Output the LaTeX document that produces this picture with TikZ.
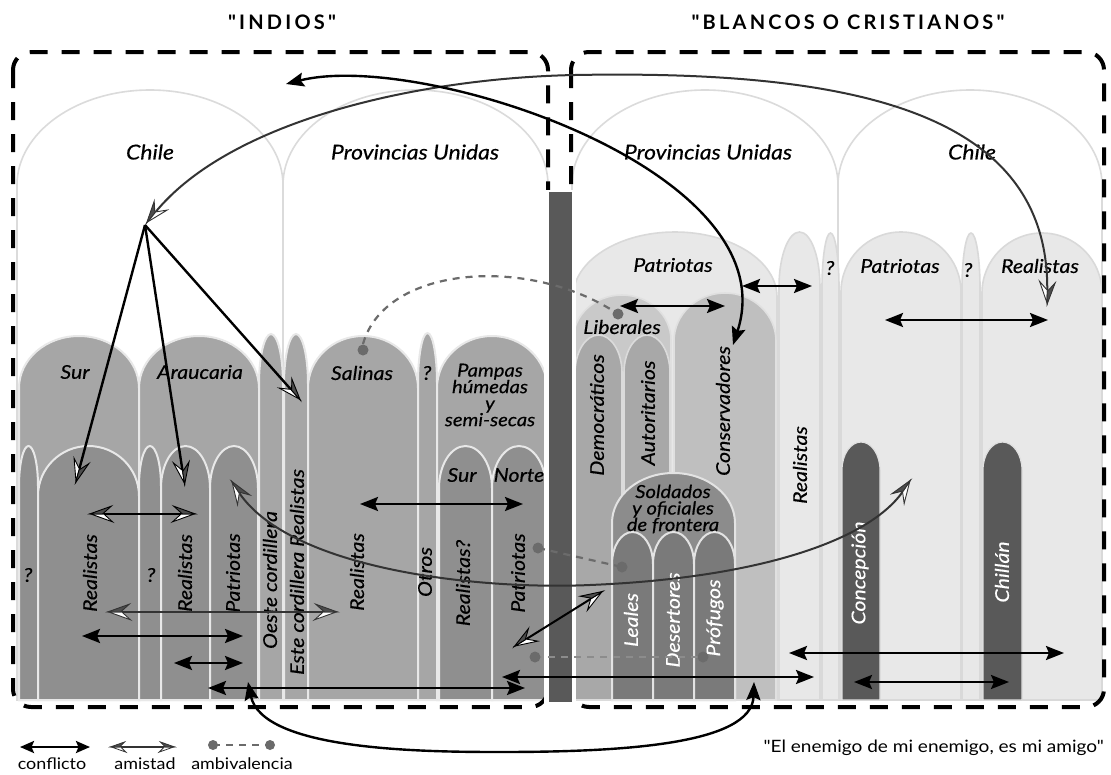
\documentclass[tikz,border=0pt]{standalone}
\usepackage{fontspec}
\setmainfont[Ligatures=TeXOff,FakeStretch=1.12]{Lato}
\newfontfamily\labfont[Ligatures=TeXOff,FakeStretch=1.12,FakeBold=0.4]{Lato}
\newfontfamily\titlefont[LetterSpace=16,Ligatures=TeXOff]{Lato}
\usetikzlibrary{arrows.meta}
\definecolor{amcol}{gray}{0.2}
\definecolor{ambcol}{gray}{0.42}
\tikzset{
 Conf/.tip={Stealth[length=18pt,width=14pt,inset=3pt]},
 ConfS/.tip={Stealth[length=14pt,width=12pt,inset=2.5pt]},
 Amis/.tip={Stealth[harpoon,length=25pt,width=18pt,inset=10pt,fill=white,line width=0.9pt,sep=-25pt]Stealth[harpoon,swap,length=25pt,width=18pt,inset=10pt,fill=black!70,line width=0.9pt]},
 AmisE/.tip={Stealth[harpoon,swap,length=25pt,width=18pt,inset=10pt,fill=white,line width=0.9pt,sep=-25pt]Stealth[harpoon,length=25pt,width=18pt,inset=10pt,fill=black!70,line width=0.9pt]},
 AmisS/.tip={Stealth[harpoon,length=17pt,width=12pt,inset=6pt,fill=white,line width=0.8pt,sep=-17pt]Stealth[harpoon,swap,length=17pt,width=12pt,inset=6pt,fill=black!70,line width=0.8pt]},
 AmisSE/.tip={Stealth[harpoon,swap,length=17pt,width=12pt,inset=6pt,fill=white,line width=0.8pt,sep=-17pt]Stealth[harpoon,length=17pt,width=12pt,inset=6pt,fill=black!70,line width=0.8pt]},
}
\newcommand{\archshape}[6]{%
 \pgfmathsetmacro{\aXa}{#2}\pgfmathsetmacro{\aXb}{#3}%
 \pgfmathsetmacro{\aXm}{(#2+#3)/2}\pgfmathsetmacro{\aRx}{(#3-#2)/2}%
 \pgfmathsetmacro{\aYs}{#4+#5}\pgfmathsetmacro{\aYc}{#4+#5-0.5523*#5}%
 \pgfmathsetmacro{\aXl}{\aXm-0.5523*\aRx}\pgfmathsetmacro{\aXr}{\aXm+0.5523*\aRx}%
 \path[#1] (\aXa,#6) -- (\aXa,\aYs) .. controls (\aXa,\aYc) and (\aXl,#4) .. (\aXm,#4)
   .. controls (\aXr,#4) and (\aXb,\aYc) .. (\aXb,\aYs) -- (\aXb,#6) -- cycle;}
\begin{document}
\begin{tikzpicture}[x=1pt,y=-1pt,
 whitearch/.style={fill=white,draw=black!14,line width=1.6pt},
 gA/.style={fill=black!35,draw=black!9,line width=2pt},
 gB/.style={fill=black!44,draw=black!9,line width=2pt},
 rA/.style={fill=black!9,draw=black!15,line width=1.6pt},
 rLib/.style={fill=black!21,draw=black!12,line width=1.6pt},
 rCon/.style={fill=black!25,draw=black!12,line width=1.6pt},
 rDem/.style={fill=black!34,draw=black!14,line width=1.6pt},
 rSol/.style={fill=black!45,draw=black!11,line width=2pt},
 rLea/.style={fill=black!52,draw=black!11,line width=2pt},
 city/.style={fill=black!65,draw=black!12,line width=1.2pt},
 dashframe/.style={draw=black,line width=4pt,dash pattern=on 18pt off 14pt,rounded corners=18pt},
 lab/.style={font=\labfont\fontsize{19}{19}\selectfont\itshape,inner sep=0pt},
 biglab/.style={font=\labfont\fontsize{20.5}{20.5}\selectfont\itshape,inner sep=0pt},
 vlab/.style={lab,rotate=90},
 wvlab/.style={vlab,text=white},
 mlab/.style={lab,align=center,font=\labfont\fontsize{18}{16.5}\selectfont\itshape},
 conf/.style={line width=2.4pt,draw=black,arrows={Conf-Conf}},
 amis/.style={line width=2pt,draw=amcol,arrows={Amis-AmisE}},
 hubline/.style={line width=2.4pt,draw=black,arrows={-AmisE}},
 amb/.style={draw=ambcol,line width=2.2pt,dash pattern=on 7pt off 6pt},
 ambdot/.style={circle,fill=ambcol,inner sep=0pt,minimum size=11pt},
 legtext/.style={font=\fontsize{16}{16}\selectfont,inner sep=0pt},
 titletext/.style={font=\titlefont\bfseries\fontsize{20}{20}\selectfont,inner sep=0pt},
]
\useasboundingbox (0,0) rectangle (1111,774);
\fill[white] (0,0) rectangle (1111,774);

% big white arches
\archshape{whitearch}{17}{283}{90}{95}{700}
\archshape{whitearch}{283}{548}{90}{95}{700}
\archshape{whitearch}{572}{838}{90}{95}{700}
\archshape{whitearch}{838}{1102}{90}{95}{700}

% left, level A
\archshape{gA}{19}{139}{336}{52}{700}
\archshape{gA}{139}{259}{336}{52}{700}
\archshape{gA}{259}{283}{334}{50}{700}
\archshape{gA}{284}{308}{334}{50}{700}
\archshape{gA}{308}{418}{336}{52}{700}
\archshape{gA}{418}{437}{333}{50}{700}
\archshape{gA}{437}{547}{336}{52}{700}
% left, level B
\archshape{gB}{19}{38}{446}{40}{700}
\archshape{gB}{38}{139}{446}{50}{700}
\archshape{gB}{139}{161}{446}{40}{700}
\archshape{gB}{161}{210}{446}{42}{700}
\archshape{gB}{210}{258}{446}{42}{700}
\archshape{gB}{439}{492}{446}{42}{700}
\archshape{gB}{492}{546}{446}{42}{700}

% right, level A
\archshape{rA}{573}{777}{232}{65}{700}
\archshape{rA}{779}{820}{232}{55}{700}
\archshape{rA}{822}{839}{233}{55}{700}
\archshape{rA}{841}{961}{232}{60}{700}
\archshape{rA}{962}{980}{233}{55}{700}
\archshape{rA}{982}{1102}{233}{60}{700}
% right, inner levels
\archshape{rLib}{573}{671}{295}{45}{700}
\archshape{rCon}{674}{776}{293}{48}{700}
\archshape{rDem}{575}{622}{335}{38}{700}
\archshape{rDem}{624}{670}{335}{38}{700}
\archshape{rSol}{612}{735}{473}{50}{700}
\archshape{rLea}{612}{653}{532}{32}{700}
\archshape{rLea}{653}{694}{532}{32}{700}
\archshape{rLea}{694}{735}{532}{32}{700}
\archshape{city}{842}{880}{442}{28}{700}
\archshape{city}{983}{1022}{442}{28}{700}

% dashed frames
\draw[dashframe] (13,52) rectangle (548,707);
\draw[dashframe] (571,52) rectangle (1104,707);
% central bar
\fill[white] (544,190) rectangle (576,712);
\fill[black!65] (549,192) rectangle (572,702);

% titles
\node[titletext] (tInd) at (282,22) {"INDIOS"};
\node[titletext] (tBla) at (848,22) {"BLANCOS O CRISTIANOS"};

% labels
\node[biglab] (chL) at (150,152) {Chile};
\node[biglab] (pvL) at (415,152) {Provincias Unidas};
\node[biglab] (pvR) at (708,152) {Provincias Unidas};
\node[biglab] (chR) at (972,152) {Chile};
\node[lab] (sur) at (75,372) {Sur};
\node[lab] (arau) at (200,372) {Araucaria};
\node[lab] (sal) at (362,373) {Salinas};
\node[lab] (q0) at (427,373) {?};
\node[mlab] (pamp) at (490,395) {Pampas\\húmedas\\y\\semi-secas};
\node[lab] (psur) at (462,475) {Sur};
\node[lab] (pnor) at (519,475) {Norte};
\node[lab] (q1) at (28,575) {?};
\node[lab] (q2) at (151,575) {?};
\node[vlab] (re1) at (90,573) {Realistas};
\node[vlab] (re2) at (185,573) {Realistas};
\node[vlab] (pa1) at (233,573) {Patriotas};
\node[vlab] (oes) at (270,580) {Oeste cordillera};
\node[vlab] (est) at (297,572) {Este cordillera Realistas};
\node[vlab] (re3) at (357,572) {Realistas};
\node[vlab] (otr) at (425,572) {Otros};
\node[vlab] (re4) at (463,583) {Realistas?};
\node[vlab] (pa2) at (518,573) {Patriotas};

\node[lab] (paR) at (673,265) {Patriotas};
\node[lab] (lib) at (622,327) {Liberales};
\node[vlab] (dem) at (597,415) {Democráticos};
\node[vlab] (aut) at (648,413) {Autoritarios};
\node[vlab] (con) at (723,411) {Conservadores};
\node[lab] (q3) at (830,268) {?};
\node[lab] (paC) at (900,266) {Patriotas};
\node[lab] (q4) at (968,270) {?};
\node[lab] (reC) at (1040,266) {Realistas};
\node[vlab] (reR) at (800,465) {Realistas};
\node[mlab] (sol) at (673,509) {Soldados\\y oficiales\\de frontera};
\node[wvlab] (lea) at (631,620) {Leales};
\node[wvlab] (des) at (673,620) {Desertores};
\node[wvlab] (pro) at (715,618) {Prófugos};
\node[wvlab] (conc) at (860,573) {Concepción};
\node[wvlab] (chi) at (1002,572) {Chillán};

% coordinates
\coordinate (hub) at (145,225);
\coordinate (reChile) at (1047,307);
\coordinate (pvTop) at (286,84);
\coordinate (consTip) at (733,345);

% long curves
\draw[amis] (hub) .. controls (230,120) and (420,78) .. (575,75)
   .. controls (850,70) and (1050,110) .. (reChile);
\draw[conf] (pvTop) .. controls (420,50) and (790,170) .. (consTip);
\draw[hubline] (hub) -- (75,485);
\draw[hubline] (hub) -- (185,487);
\draw[hubline] (hub) -- (302,402);
\draw[amis] (230,479) .. controls (290,570) and (480,590) .. (590,585)
   .. controls (760,578) and (870,540) .. (912,478);
\draw[conf] (248,682) .. controls (262,750) and (420,752) .. (500,752)
   .. controls (620,752) and (752,745) .. (754,682);
\draw[amis,draw=black] (512,648) -- (605,590);

% straight arrows
\draw[conf] (360,504) -- (523,504);
\draw[conf] (82,636) -- (243,636);
\draw[conf] (174,663) -- (243,663);
\draw[conf] (208,688) -- (525,688);
\draw[conf] (502,677) -- (814,677);
\draw[conf] (620,306) -- (725,306);
\draw[conf] (742,286) -- (812,286);
\draw[conf] (885,320) -- (1048,320);
\draw[conf] (789,653) -- (1064,653);
\draw[conf] (854,682) -- (1009,682);
\draw[amis,draw=black] (87,514) -- (198,514);
\draw[amis] (105,612) -- (340,612);

% ambivalence
\draw[amb] (363,344) .. controls (385,265) and (530,255) .. (618,314);
\draw[amb] (538,548) -- (622,567);
\draw[amb,line width=1.5pt,draw=black!45] (535,657) -- (703,657);
\node[ambdot] (dSal) at (363,350) {};
\node[ambdot] (dLib) at (618,314) {};
\node[ambdot] (dPa) at (538,548) {};
\node[ambdot] (dLea) at (622,567) {};
\node[ambdot] (dPa2) at (535,657) {};
\node[ambdot] (dPro) at (703,657) {};

% legend
\draw[line width=2.4pt,arrows={ConfS-ConfS}] (20,747) -- (90,747);
\draw[line width=2pt,draw=amcol,arrows={AmisS-AmisSE}] (108,747) -- (177,747);
\draw[amb] (213,745) -- (270,745);
\node[ambdot,minimum size=10pt] (l1) at (213,745) {};
\node[ambdot,minimum size=10pt] (l2) at (270,745) {};
\node[legtext] (lc) at (52,764) {conflicto};
\node[legtext] (la) at (145,764) {amistad};
\node[legtext] (lb) at (242,764) {ambivalencia};
\node[legtext,anchor=east,font=\fontsize{17}{17}\selectfont] (quote) at (1104,748) {"El enemigo de mi enemigo, es mi amigo"};
\end{tikzpicture}
\end{document}
